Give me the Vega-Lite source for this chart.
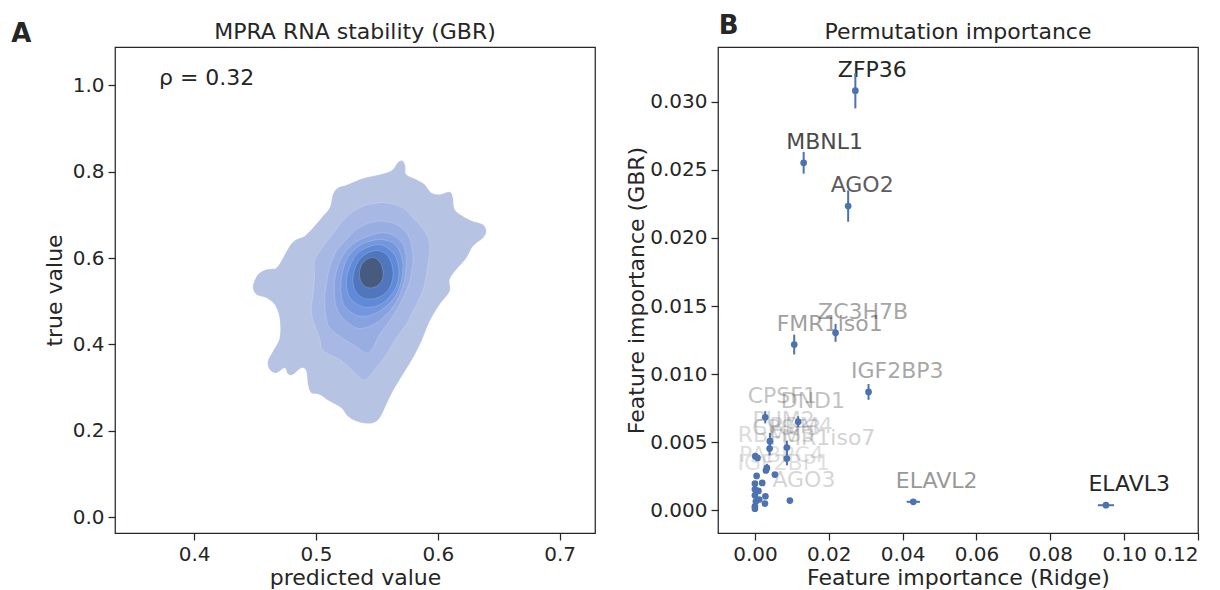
{
 "$schema": "https://vega.github.io/schema/vega-lite/v6.json",
 "background": "white",
 "padding": {"left": 10, "top": 12, "right": 2, "bottom": 2},
 "spacing": 29,
 "config": {
  "font": "DejaVu Sans",
  "view": {"stroke": "#262626", "strokeWidth": 1.25},
  "axis": {"domain": false, "grid": false, "tickColor": "#262626", "tickWidth": 1.25, "tickSize": 7, "labelFontSize": 20, "labelColor": "#262626", "titleFontSize": 22, "titleColor": "#262626", "titleFontWeight": "normal", "labelPadding": 4, "titlePadding": 6, "labelFont": "DejaVu Sans", "titleFont": "DejaVu Sans"},
  "axisX": {"titlePadding": 3}
 },
 "datasets": {
  "kde": [
   {"l":"a","i":1,"x":0.5713,"y":0.8241},{"l":"a","i":2,"x":0.5733,"y":0.8125},{"l":"a","i":3,"x":0.5741,"y":0.7933},{"l":"a","i":4,"x":0.5824,"y":0.7817},{"l":"a","i":5,"x":0.5892,"y":0.7701},{"l":"a","i":6,"x":0.5947,"y":0.7507},{"l":"a","i":7,"x":0.6015,"y":0.7470},{"l":"a","i":8,"x":0.6097,"y":0.7530},{"l":"a","i":9,"x":0.6124,"y":0.7391},{"l":"a","i":10,"x":0.6138,"y":0.7123},{"l":"a","i":11,"x":0.6206,"y":0.6968},{"l":"a","i":12,"x":0.6288,"y":0.6852},{"l":"a","i":13,"x":0.6370,"y":0.6775},{"l":"a","i":14,"x":0.6398,"y":0.6620},{"l":"a","i":15,"x":0.6370,"y":0.6465},{"l":"a","i":16,"x":0.6288,"y":0.6273},{"l":"a","i":17,"x":0.6234,"y":0.6002},{"l":"a","i":18,"x":0.6152,"y":0.5734},{"l":"a","i":19,"x":0.6097,"y":0.5502},{"l":"a","i":20,"x":0.6097,"y":0.5231},{"l":"a","i":21,"x":0.6015,"y":0.4924},{"l":"a","i":22,"x":0.5933,"y":0.4537},{"l":"a","i":23,"x":0.5865,"y":0.4074},{"l":"a","i":24,"x":0.5796,"y":0.3688},{"l":"a","i":25,"x":0.5713,"y":0.3303},{"l":"a","i":26,"x":0.5631,"y":0.2917},{"l":"a","i":27,"x":0.5577,"y":0.2609},{"l":"a","i":28,"x":0.5522,"y":0.2299},{"l":"a","i":29,"x":0.5467,"y":0.2183},{"l":"a","i":30,"x":0.5385,"y":0.2183},{"l":"a","i":31,"x":0.5303,"y":0.2262},{"l":"a","i":32,"x":0.5249,"y":0.2377},{"l":"a","i":33,"x":0.5208,"y":0.2530},{"l":"a","i":34,"x":0.5112,"y":0.2685},{"l":"a","i":35,"x":0.5030,"y":0.2840},{"l":"a","i":36,"x":0.4961,"y":0.2877},{"l":"a","i":37,"x":0.4934,"y":0.3072},{"l":"a","i":38,"x":0.4920,"y":0.3380},{"l":"a","i":39,"x":0.4879,"y":0.3456},{"l":"a","i":40,"x":0.4810,"y":0.3303},{"l":"a","i":41,"x":0.4769,"y":0.3317},{"l":"a","i":42,"x":0.4742,"y":0.3456},{"l":"a","i":43,"x":0.4674,"y":0.3340},{"l":"a","i":44,"x":0.4619,"y":0.3419},{"l":"a","i":45,"x":0.4605,"y":0.3611},{"l":"a","i":46,"x":0.4646,"y":0.3843},{"l":"a","i":47,"x":0.4701,"y":0.4150},{"l":"a","i":48,"x":0.4701,"y":0.4613},{"l":"a","i":49,"x":0.4660,"y":0.4924},{"l":"a","i":50,"x":0.4592,"y":0.5076},{"l":"a","i":51,"x":0.4510,"y":0.5155},{"l":"a","i":52,"x":0.4482,"y":0.5347},{"l":"a","i":53,"x":0.4523,"y":0.5618},{"l":"a","i":54,"x":0.4592,"y":0.5734},{"l":"a","i":55,"x":0.4674,"y":0.5771},{"l":"a","i":56,"x":0.4728,"y":0.6002},{"l":"a","i":57,"x":0.4783,"y":0.6273},{"l":"a","i":58,"x":0.4838,"y":0.6428},{"l":"a","i":59,"x":0.4906,"y":0.6505},{"l":"a","i":60,"x":0.4975,"y":0.6697},{"l":"a","i":61,"x":0.5044,"y":0.6928},{"l":"a","i":62,"x":0.5112,"y":0.7160},{"l":"a","i":63,"x":0.5139,"y":0.7470},{"l":"a","i":64,"x":0.5180,"y":0.7623},{"l":"a","i":65,"x":0.5262,"y":0.7701},{"l":"a","i":66,"x":0.5358,"y":0.7817},{"l":"a","i":67,"x":0.5467,"y":0.7894},{"l":"a","i":68,"x":0.5577,"y":0.7970},{"l":"a","i":69,"x":0.5631,"y":0.8049},{"l":"a","i":70,"x":0.5659,"y":0.8164},{"l":"a","i":71,"x":0.5686,"y":0.8241},
   {"l":"b","i":1,"x":0.5577,"y":0.7276},{"l":"b","i":2,"x":0.5714,"y":0.7161},{"l":"b","i":3,"x":0.5796,"y":0.6929},{"l":"b","i":4,"x":0.5892,"y":0.6620},{"l":"b","i":5,"x":0.5933,"y":0.6312},{"l":"b","i":6,"x":0.5919,"y":0.5849},{"l":"b","i":7,"x":0.5892,"y":0.5386},{"l":"b","i":8,"x":0.5851,"y":0.5077},{"l":"b","i":9,"x":0.5796,"y":0.4769},{"l":"b","i":10,"x":0.5741,"y":0.4460},{"l":"b","i":11,"x":0.5659,"y":0.4151},{"l":"b","i":12,"x":0.5577,"y":0.3765},{"l":"b","i":13,"x":0.5495,"y":0.3457},{"l":"b","i":14,"x":0.5426,"y":0.3225},{"l":"b","i":15,"x":0.5385,"y":0.3187},{"l":"b","i":16,"x":0.5331,"y":0.3302},{"l":"b","i":17,"x":0.5276,"y":0.3457},{"l":"b","i":18,"x":0.5194,"y":0.3650},{"l":"b","i":19,"x":0.5084,"y":0.3804},{"l":"b","i":20,"x":0.5043,"y":0.3920},{"l":"b","i":21,"x":0.5030,"y":0.4151},{"l":"b","i":22,"x":0.4988,"y":0.4460},{"l":"b","i":23,"x":0.4961,"y":0.4769},{"l":"b","i":24,"x":0.4975,"y":0.5154},{"l":"b","i":25,"x":0.4988,"y":0.5540},{"l":"b","i":26,"x":0.4988,"y":0.5926},{"l":"b","i":27,"x":0.5030,"y":0.6157},{"l":"b","i":28,"x":0.5112,"y":0.6466},{"l":"b","i":29,"x":0.5194,"y":0.6775},{"l":"b","i":30,"x":0.5290,"y":0.7045},{"l":"b","i":31,"x":0.5385,"y":0.7199},{"l":"b","i":32,"x":0.5467,"y":0.7253},
   {"l":"c","i":1,"x":0.5550,"y":0.6852},{"l":"c","i":2,"x":0.5659,"y":0.6775},{"l":"c","i":3,"x":0.5741,"y":0.6582},{"l":"c","i":4,"x":0.5782,"y":0.6312},{"l":"c","i":5,"x":0.5796,"y":0.5926},{"l":"c","i":6,"x":0.5768,"y":0.5463},{"l":"c","i":7,"x":0.5727,"y":0.5154},{"l":"c","i":8,"x":0.5673,"y":0.4846},{"l":"c","i":9,"x":0.5604,"y":0.4537},{"l":"c","i":10,"x":0.5522,"y":0.4228},{"l":"c","i":11,"x":0.5467,"y":0.3920},{"l":"c","i":12,"x":0.5426,"y":0.3804},{"l":"c","i":13,"x":0.5385,"y":0.3843},{"l":"c","i":14,"x":0.5303,"y":0.3997},{"l":"c","i":15,"x":0.5194,"y":0.4190},{"l":"c","i":16,"x":0.5112,"y":0.4383},{"l":"c","i":17,"x":0.5084,"y":0.4614},{"l":"c","i":18,"x":0.5071,"y":0.5000},{"l":"c","i":19,"x":0.5084,"y":0.5386},{"l":"c","i":20,"x":0.5112,"y":0.5772},{"l":"c","i":21,"x":0.5166,"y":0.6157},{"l":"c","i":22,"x":0.5249,"y":0.6427},{"l":"c","i":23,"x":0.5331,"y":0.6659},{"l":"c","i":24,"x":0.5440,"y":0.6813},
   {"l":"d","i":1,"x":0.5550,"y":0.6582},{"l":"d","i":2,"x":0.5645,"y":0.6505},{"l":"d","i":3,"x":0.5714,"y":0.6312},{"l":"d","i":4,"x":0.5741,"y":0.6003},{"l":"d","i":5,"x":0.5733,"y":0.5617},{"l":"d","i":6,"x":0.5700,"y":0.5232},{"l":"d","i":7,"x":0.5645,"y":0.4923},{"l":"d","i":8,"x":0.5577,"y":0.4691},{"l":"d","i":9,"x":0.5495,"y":0.4498},{"l":"d","i":10,"x":0.5399,"y":0.4383},{"l":"d","i":11,"x":0.5331,"y":0.4383},{"l":"d","i":12,"x":0.5249,"y":0.4537},{"l":"d","i":13,"x":0.5180,"y":0.4769},{"l":"d","i":14,"x":0.5153,"y":0.5077},{"l":"d","i":15,"x":0.5153,"y":0.5463},{"l":"d","i":16,"x":0.5180,"y":0.5810},{"l":"d","i":17,"x":0.5235,"y":0.6119},{"l":"d","i":18,"x":0.5317,"y":0.6350},{"l":"d","i":19,"x":0.5426,"y":0.6505},
   {"l":"e","i":1,"x":0.5536,"y":0.6427},{"l":"e","i":2,"x":0.5632,"y":0.6350},{"l":"e","i":3,"x":0.5686,"y":0.6157},{"l":"e","i":4,"x":0.5714,"y":0.5849},{"l":"e","i":5,"x":0.5700,"y":0.5463},{"l":"e","i":6,"x":0.5659,"y":0.5154},{"l":"e","i":7,"x":0.5591,"y":0.4923},{"l":"e","i":8,"x":0.5495,"y":0.4730},{"l":"e","i":9,"x":0.5399,"y":0.4653},{"l":"e","i":10,"x":0.5317,"y":0.4691},{"l":"e","i":11,"x":0.5235,"y":0.4884},{"l":"e","i":12,"x":0.5207,"y":0.5154},{"l":"e","i":13,"x":0.5207,"y":0.5502},{"l":"e","i":14,"x":0.5235,"y":0.5849},{"l":"e","i":15,"x":0.5290,"y":0.6119},{"l":"e","i":16,"x":0.5372,"y":0.6312},{"l":"e","i":17,"x":0.5467,"y":0.6404},
   {"l":"f","i":1,"x":0.5522,"y":0.6312},{"l":"f","i":2,"x":0.5604,"y":0.6196},{"l":"f","i":3,"x":0.5659,"y":0.6003},{"l":"f","i":4,"x":0.5681,"y":0.5694},{"l":"f","i":5,"x":0.5664,"y":0.5386},{"l":"f","i":6,"x":0.5618,"y":0.5154},{"l":"f","i":7,"x":0.5550,"y":0.4961},{"l":"f","i":8,"x":0.5454,"y":0.4861},{"l":"f","i":9,"x":0.5372,"y":0.4884},{"l":"f","i":10,"x":0.5290,"y":0.5039},{"l":"f","i":11,"x":0.5254,"y":0.5270},{"l":"f","i":12,"x":0.5254,"y":0.5579},{"l":"f","i":13,"x":0.5290,"y":0.5887},{"l":"f","i":14,"x":0.5344,"y":0.6119},{"l":"f","i":15,"x":0.5426,"y":0.6250},
   {"l":"g","i":1,"x":0.5508,"y":0.6173},{"l":"g","i":2,"x":0.5577,"y":0.6080},{"l":"g","i":3,"x":0.5618,"y":0.5887},{"l":"g","i":4,"x":0.5632,"y":0.5617},{"l":"g","i":5,"x":0.5610,"y":0.5347},{"l":"g","i":6,"x":0.5555,"y":0.5154},{"l":"g","i":7,"x":0.5467,"y":0.5054},{"l":"g","i":8,"x":0.5385,"y":0.5077},{"l":"g","i":9,"x":0.5325,"y":0.5232},{"l":"g","i":10,"x":0.5303,"y":0.5463},{"l":"g","i":11,"x":0.5317,"y":0.5733},{"l":"g","i":12,"x":0.5358,"y":0.5965},{"l":"g","i":13,"x":0.5426,"y":0.6119},
   {"l":"h","i":1,"x":0.5481,"y":0.6003},{"l":"h","i":2,"x":0.5528,"y":0.5887},{"l":"h","i":3,"x":0.5550,"y":0.5694},{"l":"h","i":4,"x":0.5544,"y":0.5502},{"l":"h","i":5,"x":0.5508,"y":0.5370},{"l":"h","i":6,"x":0.5454,"y":0.5309},{"l":"h","i":7,"x":0.5399,"y":0.5347},{"l":"h","i":8,"x":0.5363,"y":0.5502},{"l":"h","i":9,"x":0.5358,"y":0.5694},{"l":"h","i":10,"x":0.5380,"y":0.5864},{"l":"h","i":11,"x":0.5426,"y":0.5980}
  ],
  "perm": [
   {"label":"ZFP36","gx":0.0272,"gy":0.03081,"xlo":0.0265,"xhi":0.0279,"ylo":0.02951,"yhi":0.03211,"w":1.0},
   {"label":"MBNL1","gx":0.0132,"gy":0.02552,"xlo":0.0128,"xhi":0.0136,"ylo":0.02472,"yhi":0.02632,"w":0.83},
   {"label":"AGO2","gx":0.02525,"gy":0.02234,"xlo":0.02475,"xhi":0.02575,"ylo":0.02119,"yhi":0.02349,"w":0.74},
   {"label":"ZC3H7B","gx":0.02184,"gy":0.01303,"xlo":0.02144,"xhi":0.02224,"ylo":0.01237,"yhi":0.01369,"w":0.41},
   {"label":"FMR1iso1","gx":0.01064,"gy":0.01217,"xlo":0.01034,"xhi":0.01094,"ylo":0.01144,"yhi":0.0129,"w":0.44},
   {"label":"IGF2BP3","gx":0.03077,"gy":0.00869,"xlo":0.03017,"xhi":0.03137,"ylo":0.00811,"yhi":0.00927,"w":0.40},
   {"label":"CPSF1","gx":0.00279,"gy":0.00683,"xlo":0.00249,"xhi":0.00309,"ylo":0.00638,"yhi":0.00728,"w":0.27},
   {"label":"DND1","gx":0.01172,"gy":0.0065,"xlo":0.01142,"xhi":0.01202,"ylo":0.0061,"yhi":0.0069,"w":0.28},
   {"label":"PUM2","gx":0.00406,"gy":0.00507,"xlo":0.00386,"xhi":0.00426,"ylo":0.00447,"yhi":0.00567,"w":0.19},
   {"label":"CPSF3","gx":0.00398,"gy":0.00453,"xlo":0.00378,"xhi":0.00418,"ylo":0.00403,"yhi":0.00503,"w":0.18},
   {"label":"RBM4","gx":0.00866,"gy":0.00461,"xlo":0.00846,"xhi":0.00886,"ylo":0.00411,"yhi":0.00511,"w":0.17},
   {"label":"RBMS3","gx":0.0001,"gy":0.00397,"xlo":0.0,"xhi":0.0002,"ylo":0.00387,"yhi":0.00407,"w":0.16},
   {"label":"FMR1iso7","gx":0.00866,"gy":0.0038,"xlo":0.00846,"xhi":0.00886,"ylo":0.0033,"yhi":0.0043,"w":0.2},
   {"label":"","gx":0.0007,"gy":0.00384,"xlo":0.0007,"xhi":0.0007,"ylo":0.00384,"yhi":0.00384,"w":0.1},
   {"label":"","gx":0.00325,"gy":0.00311,"xlo":0.00325,"xhi":0.00325,"ylo":0.00281,"yhi":0.00341,"w":0.1},
   {"label":"","gx":0.00298,"gy":0.00292,"xlo":0.00298,"xhi":0.00298,"ylo":0.00292,"yhi":0.00292,"w":0.1},
   {"label":"","gx":0.00541,"gy":0.00262,"xlo":0.00541,"xhi":0.00541,"ylo":0.00262,"yhi":0.00262,"w":0.1},
   {"label":"PABPC4","gx":0.00046,"gy":0.00252,"xlo":0.00046,"xhi":0.00046,"ylo":0.00252,"yhi":0.00252,"w":0.14},
   {"label":"IGF2BP1","gx":0.0,"gy":0.00196,"xlo":0.0,"xhi":0.0,"ylo":0.00196,"yhi":0.00196,"w":0.14},
   {"label":"","gx":0.00198,"gy":0.00201,"xlo":0.00198,"xhi":0.00198,"ylo":0.00201,"yhi":0.00201,"w":0.1},
   {"label":"","gx":0.00095,"gy":0.00142,"xlo":0.00095,"xhi":0.00095,"ylo":0.00142,"yhi":0.00142,"w":0.1},
   {"label":"","gx":0.0,"gy":0.00154,"xlo":0.0,"xhi":0.0,"ylo":0.00154,"yhi":0.00154,"w":0.1},
   {"label":"","gx":0.00284,"gy":0.00103,"xlo":0.00284,"xhi":0.00284,"ylo":0.00103,"yhi":0.00103,"w":0.1},
   {"label":"","gx":0.0,"gy":0.0011,"xlo":0.0,"xhi":0.0,"ylo":0.0011,"yhi":0.0011,"w":0.1},
   {"label":"","gx":0.00027,"gy":0.00066,"xlo":0.00027,"xhi":0.00027,"ylo":0.00066,"yhi":0.00066,"w":0.1},
   {"label":"","gx":0.00116,"gy":0.00079,"xlo":0.00116,"xhi":0.00116,"ylo":0.00079,"yhi":0.00079,"w":0.1},
   {"label":"","gx":0.0027,"gy":0.00049,"xlo":0.0027,"xhi":0.0027,"ylo":0.00049,"yhi":0.00049,"w":0.1},
   {"label":"AGO3","gx":0.00947,"gy":0.00071,"xlo":0.00917,"xhi":0.00977,"ylo":0.00071,"yhi":0.00071,"w":0.19},
   {"label":"","gx":0.0,"gy":0.00029,"xlo":0.0,"xhi":0.0,"ylo":0.00029,"yhi":0.00029,"w":0.1},
   {"label":"","gx":0.0,"gy":0.00011,"xlo":0.0,"xhi":0.0,"ylo":0.00011,"yhi":0.00011,"w":0.1},
   {"label":"ELAVL2","gx":0.0429,"gy":0.00062,"xlo":0.0411,"xhi":0.0447,"ylo":0.00062,"yhi":0.00062,"w":0.47},
   {"label":"ELAVL3","gx":0.09507,"gy":0.00037,"xlo":0.09287,"xhi":0.09727,"ylo":0.00037,"yhi":0.00037,"w":1.0}
  ]
 },
 "hconcat": [
  {
   "width": 480, "height": 486,
   "layer": [
    {
     "data": {"name": "kde"},
     "mark": {"type": "line", "interpolate": "cardinal-closed", "stroke": "#ffffff", "strokeWidth": 0.6, "strokeOpacity": 0.3},
     "encoding": {
      "x": {"field": "x", "type": "quantitative", "scale": {"domain": [0.335, 0.729], "nice": false, "zero": false}, "axis": {"values": [0.4, 0.5, 0.6, 0.7], "format": ".1f", "title": "predicted value"}},
      "y": {"field": "y", "type": "quantitative", "scale": {"domain": [-0.036, 1.088], "nice": false, "zero": false}, "axis": {"values": [0, 0.2, 0.4, 0.6, 0.8, 1.0], "format": ".1f", "title": "true value"}},
      "fill": {"field": "l", "type": "nominal", "scale": {"domain": ["a","b","c","d","e","f","g","h"], "range": ["#b6c3e2","#a8b8e4","#98ade2","#87a2e0","#7496dd","#5f8ad8","#5076be","#475a80"]}, "legend": null},
      "order": {"field": "i", "type": "quantitative"}
     }
    },
    {
     "data": {"values": [{"t": "ρ = 0.32", "x": 0.3711, "y": 1.0169}]},
     "mark": {"type": "text", "align": "left", "baseline": "middle", "fontSize": 22, "color": "#262626"},
     "encoding": {"x": {"field": "x", "type": "quantitative"}, "y": {"field": "y", "type": "quantitative"}, "text": {"field": "t"}}
    },
    {
     "data": {"values": [{"t": "MPRA RNA stability (GBR)", "x": 0.532, "y": 1.1058}]},
     "mark": {"type": "text", "align": "center", "baseline": "alphabetic", "fontSize": 22, "color": "#262626"},
     "encoding": {"x": {"field": "x", "type": "quantitative"}, "y": {"field": "y", "type": "quantitative"}, "text": {"field": "t"}}
    },
    {
     "data": {"values": [{"t": "A", "x": 0.2581, "y": 1.1002}]},
     "mark": {"type": "text", "align": "center", "baseline": "alphabetic", "fontSize": 26, "fontWeight": "bold", "color": "#262626"},
     "encoding": {"x": {"field": "x", "type": "quantitative"}, "y": {"field": "y", "type": "quantitative"}, "text": {"field": "t"}}
    }
   ]
  },
  {
   "width": 480, "height": 486,
   "data": {"name": "perm"},
   "encoding": {
    "x": {"field": "gx", "type": "quantitative", "scale": {"domain": [-0.01, 0.12], "nice": false, "zero": false}, "axis": {"values": [0, 0.02, 0.04, 0.06, 0.08, 0.1, 0.12], "format": ".2f", "title": "Feature importance (Ridge)"}},
    "y": {"field": "gy", "type": "quantitative", "scale": {"domain": [-0.00167, 0.03402], "nice": false, "zero": false}, "axis": {"values": [0, 0.005, 0.01, 0.015, 0.02, 0.025, 0.03], "format": ".3f", "title": "Feature importance (GBR)", "titlePadding": 1}}
   },
   "layer": [
    {
     "mark": {"type": "text", "align": "left", "baseline": "middle", "dx": -17.5, "dy": -21, "fontSize": 22, "color": "#262626"},
     "encoding": {"text": {"field": "label"}, "opacity": {"field": "w", "type": "quantitative", "scale": null}}
    },
    {
     "mark": {"type": "rule", "color": "#4c72b0", "strokeWidth": 2},
     "encoding": {"y": {"field": "ylo", "type": "quantitative"}, "y2": {"field": "yhi"}}
    },
    {
     "mark": {"type": "rule", "color": "#4c72b0", "strokeWidth": 2},
     "encoding": {"x": {"field": "xlo", "type": "quantitative"}, "x2": {"field": "xhi"}}
    },
    {
     "mark": {"type": "circle", "color": "#4c72b0", "opacity": 1, "size": 45}
    },
    {
     "data": {"values": [{"t": "Permutation importance", "gx": 0.055, "gy": 0.03459}]},
     "mark": {"type": "text", "align": "center", "baseline": "alphabetic", "fontSize": 22, "color": "#262626"},
     "encoding": {"text": {"field": "t"}}
    },
    {
     "data": {"values": [{"t": "B", "gx": -0.0071, "gy": 0.03497}]},
     "mark": {"type": "text", "align": "center", "baseline": "alphabetic", "fontSize": 26, "fontWeight": "bold", "color": "#262626"},
     "encoding": {"text": {"field": "t"}}
    }
   ]
  }
 ]
}
